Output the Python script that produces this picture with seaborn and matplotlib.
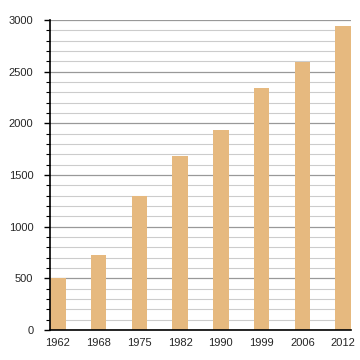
import matplotlib
matplotlib.use("Agg")
import matplotlib.pyplot as plt
import seaborn as sns
import pandas as pd
from matplotlib.ticker import MultipleLocator

years = ["1962", "1968", "1975", "1982", "1990", "1999", "2006", "2012"]
population = [505, 727, 1297, 1688, 1935, 2343, 2591, 2945]

df = pd.DataFrame({"year": years, "population": population})

sns.set_style("white")
plt.rcParams["font.family"] = ["Liberation Sans", "DejaVu Sans"]

fig = plt.figure(figsize=(3.6, 3.6), dpi=100)
ax = fig.add_axes([0.139, 0.083, 0.836, 0.861])

sns.barplot(data=df, x="year", y="population", color="#E6B97F",
            saturation=1, width=0.385, ax=ax, zorder=2,
            edgecolor="none", linewidth=0)

ax.set_ylim(0, 3000)
ax.set_xlim(-0.1925, 7.1925)
ax.yaxis.set_major_locator(MultipleLocator(500))
ax.yaxis.set_minor_locator(MultipleLocator(100))
ax.grid(which="major", axis="y", color="#999999", linewidth=0.9, zorder=0)
ax.grid(which="minor", axis="y", color="#cccccc", linewidth=0.8, zorder=0)
ax.set_axisbelow(True)

for s in ["top", "right"]:
    ax.spines[s].set_visible(False)
for s in ["left", "bottom"]:
    ax.spines[s].set_color("black")
    ax.spines[s].set_linewidth(1.2)
    ax.spines[s].set_zorder(5)

ax.tick_params(axis="y", which="major", left=True, length=4, width=1, color="black",
               labelsize=8, pad=8)
ax.tick_params(axis="y", which="minor", left=True, length=3, width=0.8, color="black")
ax.tick_params(axis="x", bottom=False, labelsize=8, pad=2)
ax.set_xlabel("")
ax.set_ylabel("")

fig.savefig("out.png", dpi=100)
